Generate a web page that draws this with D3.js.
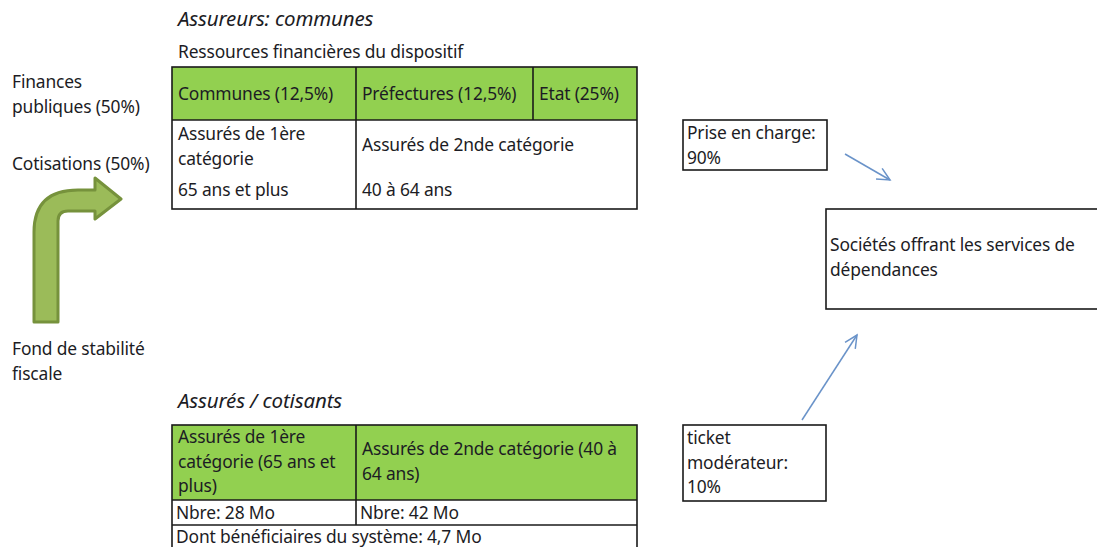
<!DOCTYPE html>
<html><head><meta charset="utf-8">
<script src="https://cdn.jsdelivr.net/npm/d3@7"></script>
<style>body{margin:0;background:#fff}svg{display:block}text{font-family:"Noto Sans",sans-serif;fill:#1c1c24}</style>
</head><body>
<svg id="c" width="1097" height="547"></svg>
<script>
// --- data (labels of the diagram) ---
const titles = [
  {t:"Assureurs: communes", x:178, y:26, italic:true},
  {t:"Ressources financières du dispositif", x:178, y:58},
  {t:"Assurés / cotisants", x:178, y:408, italic:true}
];
const sideLabels = [
  {lines:["Finances","publiques (50%)"], x:12, y:88},
  {lines:["Cotisations (50%)"], x:12, y:170},
  {lines:["Fond de stabilité","fiscale"], x:12, y:355}
];
const topHeader = ["Communes (12,5%)","Préfectures (12,5%)","Etat (25%)"];
const topBody = [
  {lines:["Assurés de 1ère","catégorie"], extra:"65 ans et plus"},
  {lines:["Assurés de 2nde catégorie"], extra:"40 à 64 ans"}
];
const bottomHeader = [
  ["Assurés de 1ère","catégorie (65 ans et","plus)"],
  ["Assurés de 2nde catégorie (40 à","64 ans)"]
];
const bottomCounts = ["Nbre: 28 Mo","Nbre: 42 Mo"];
const bottomFooter = "Dont bénéficiaires du système: 4,7 Mo";
const boxes = [
  {lines:["Prise en charge:","90%"], x0:683, y0:120, x1:827, y1:170},
  {lines:["Sociétés offrant les services de","dépendances"], x0:826, y0:209, x1:1100, y1:309, ty:251},
  {lines:["ticket","modérateur:","10%"], x0:683, y0:425, x1:826, y1:501}
];
const flows = [
  {x0:845, y0:154, x1:890, y1:180},
  {x0:802, y0:420, x1:857, y1:335}
];

const svg = d3.select("#c");
const LH = 24.5, FS = 17.4;
const green = "#92D050", line = "#1a1a1a";

function lines(g, arr, x, y, opts={}) {
  const t = g.append("text").attr("x", x).attr("y", y).attr("font-size", opts.fs||FS)
    .attr("letter-spacing", opts.ls==null ? -0.15 : opts.ls);
  if (opts.italic) t.attr("font-style","italic");
  arr.forEach((l,i)=> t.append("tspan").attr("x", x).attr("dy", i?LH:0).text(l));
  return t;
}

// titles
titles.forEach(d=> lines(svg,[d.t],d.x,d.y,{italic:d.italic, fs:d.italic?20.5:FS}));
sideLabels.forEach(d=> lines(svg,d.lines,d.x,d.y));

// top table
const tx = d3.scaleOrdinal().domain([0,1,2,3]).range([172,356,533,637]);
const ty = {top:67, hb:120, bot:209};
const gT = svg.append("g");
gT.append("rect").attr("x",172).attr("y",ty.top).attr("width",637-172).attr("height",ty.hb-ty.top).attr("fill",green);
gT.selectAll("line.v").data([1,2]).join("line").attr("x1",d=>tx(d)).attr("x2",d=>tx(d)).attr("y1",ty.top).attr("y2",ty.hb).attr("stroke",line).attr("stroke-width",1.6);
gT.append("line").attr("x1",tx(1)).attr("x2",tx(1)).attr("y1",ty.hb).attr("y2",ty.bot).attr("stroke",line).attr("stroke-width",1.6);
gT.append("line").attr("x1",172).attr("x2",637).attr("y1",ty.hb).attr("y2",ty.hb).attr("stroke",line).attr("stroke-width",1.6);
gT.append("rect").attr("x",172).attr("y",ty.top).attr("width",637-172).attr("height",ty.bot-ty.top).attr("fill","none").attr("stroke",line).attr("stroke-width",1.6);
topHeader.forEach((h,i)=> lines(gT,[h],tx(i)+6,100));
lines(gT, topBody[0].lines, tx(0)+6, 140);
lines(gT, [topBody[0].extra], tx(0)+6, 196);
lines(gT, topBody[1].lines, tx(1)+6, 151);
lines(gT, [topBody[1].extra], tx(1)+6, 196);

// bottom table
const by = {top:425, hb:500, nb:525, bot:560};
const bx = [172,356,637];
const gB = svg.append("g");
gB.append("rect").attr("x",bx[0]).attr("y",by.top).attr("width",bx[2]-bx[0]).attr("height",by.hb-by.top).attr("fill",green);
gB.append("rect").attr("x",bx[0]).attr("y",by.top).attr("width",bx[2]-bx[0]).attr("height",by.bot-by.top).attr("fill","none").attr("stroke",line).attr("stroke-width",1.6);
[by.hb, by.nb].forEach(y=> gB.append("line").attr("x1",bx[0]).attr("x2",bx[2]).attr("y1",y).attr("y2",y).attr("stroke",line).attr("stroke-width",1.6));
gB.append("line").attr("x1",bx[1]).attr("x2",bx[1]).attr("y1",by.top).attr("y2",by.nb).attr("stroke",line).attr("stroke-width",1.6);
lines(gB, bottomHeader[0], bx[0]+6, 443);
lines(gB, bottomHeader[1], bx[1]+6, 455);
bottomCounts.forEach((c,i)=> lines(gB,[c],bx[i]+4,519));
lines(gB,[bottomFooter],bx[0]+4,543);

// boxes
boxes.forEach(b=>{
  svg.append("rect").attr("x",b.x0).attr("y",b.y0).attr("width",b.x1-b.x0).attr("height",b.y1-b.y0).attr("fill","#fff").attr("stroke",line).attr("stroke-width",1.6);
  lines(svg,b.lines,b.x0+4,b.ty||(b.y0+19));
});

// flow arrows
const blue = "#6a93c9";
flows.forEach(f=>{
  svg.append("line").attr("x1",f.x0).attr("y1",f.y0).attr("x2",f.x1).attr("y2",f.y1).attr("stroke",blue).attr("stroke-width",1.5);
  const a = Math.atan2(f.y1-f.y0,f.x1-f.x0), L=14, s=0.45;
  const p = d3.path();
  p.moveTo(f.x1-L*Math.cos(a-s), f.y1-L*Math.sin(a-s));
  p.lineTo(f.x1,f.y1);
  p.lineTo(f.x1-L*Math.cos(a+s), f.y1-L*Math.sin(a+s));
  svg.append("path").attr("d",p.toString()).attr("fill","none").attr("stroke",blue).attr("stroke-width",1.5);
});

// green bent arrow
const ap = d3.path();
ap.moveTo(34,322);
ap.lineTo(34,232);
ap.quadraticCurveTo(34,190,78,190);
ap.lineTo(95,190);
ap.lineTo(95,178);
ap.lineTo(121,199);
ap.lineTo(95,219);
ap.lineTo(95,211);
ap.lineTo(68,211);
ap.quadraticCurveTo(58,211,58,221);
ap.lineTo(58,322);
ap.closePath();
svg.append("path").attr("d",ap.toString()).attr("fill","#9BBB59").attr("stroke","#76923C").attr("stroke-width",3).attr("stroke-linejoin","round");
</script>
</body></html>
